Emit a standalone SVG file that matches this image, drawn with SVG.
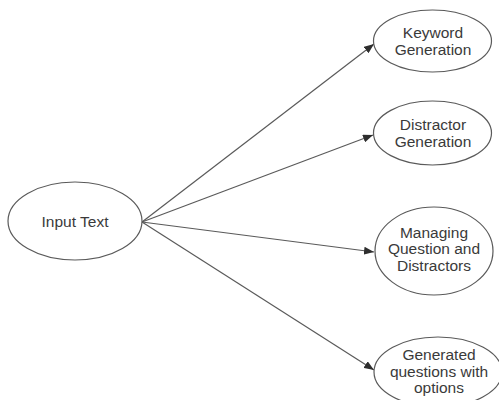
<svg xmlns="http://www.w3.org/2000/svg" width="499" height="400" viewBox="0 0 499 400">
  <style>
    .node ellipse { fill: #ffffff; stroke: #5a5a5a; stroke-width: 1.2; }
    .node text { font-family: "Liberation Sans", Arial, sans-serif; font-size: 15.5px; fill: #3a3a3a; text-anchor: middle; }
    .edge { stroke: #5a5a5a; stroke-width: 1.2; fill: none; marker-end: url(#arrow); }
  </style>
  <defs>
    <marker id="arrow" viewBox="0 0 10 8" refX="10" refY="4" markerWidth="10" markerHeight="8" markerUnits="userSpaceOnUse" orient="auto">
      <path d="M0,0 L10,4 L0,8 Z" fill="#2e2e2e"/>
    </marker>
  </defs>
  <rect width="499" height="400" fill="#ffffff"/>
  <g id="connectors">
    <line class="edge" x1="142" y1="222" x2="374" y2="44"/>
    <line class="edge" x1="142" y1="222" x2="373" y2="135"/>
    <line class="edge" x1="142" y1="222" x2="374" y2="252"/>
    <line class="edge" x1="142" y1="222" x2="374" y2="370"/>
  </g>
  <g id="input-text" class="node">
    <ellipse cx="75" cy="221" rx="67" ry="39"/>
    <text x="75" y="226.5">Input Text</text>
  </g>
  <g id="keyword-generation" class="node">
    <ellipse cx="432.5" cy="41" rx="59" ry="31"/>
    <text x="433" y="37.5">Keyword</text>
    <text x="433" y="54.5">Generation</text>
  </g>
  <g id="distractor-generation" class="node">
    <ellipse cx="432.5" cy="133" rx="59" ry="32"/>
    <text x="433" y="129.5">Distractor</text>
    <text x="433" y="146.5">Generation</text>
  </g>
  <g id="managing-question" class="node">
    <ellipse cx="434" cy="251" rx="59" ry="44"/>
    <text x="434" y="237.5">Managing</text>
    <text x="434" y="254">Question and</text>
    <text x="434" y="270.5">Distractors</text>
  </g>
  <g id="generated-questions" class="node">
    <ellipse cx="438" cy="372" rx="64" ry="35"/>
    <text x="439" y="359.5">Generated</text>
    <text x="439" y="376.5">questions with</text>
    <text x="439" y="393">options</text>
  </g>
</svg>
